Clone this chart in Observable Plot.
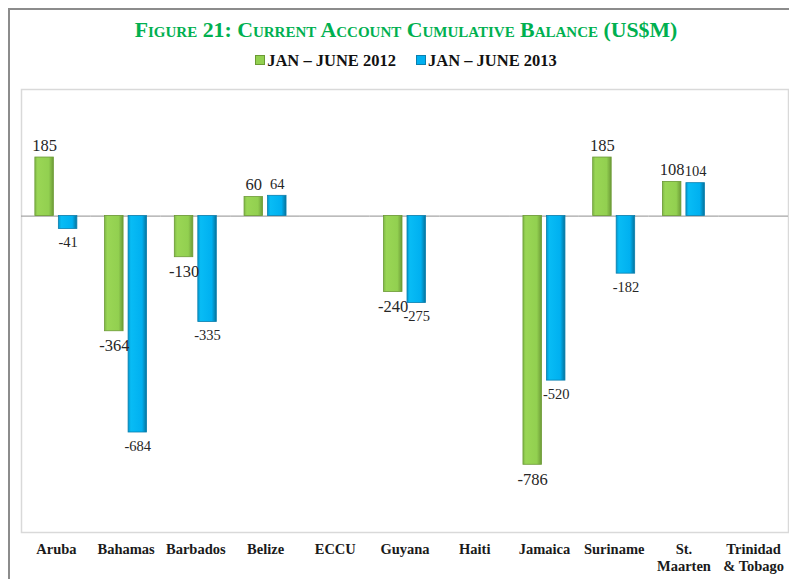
<!DOCTYPE html>
<html><head><meta charset="utf-8">
<script src="https://cdn.jsdelivr.net/npm/d3@7"></script>
<script src="https://cdn.jsdelivr.net/npm/@observablehq/plot@0.6"></script>
<style>
body{margin:0;background:#fff;}
#wrap{position:relative;width:789px;height:579px;overflow:hidden;font-family:"Liberation Serif",serif;}
#outer{position:absolute;left:8px;top:8px;width:800px;height:600px;border-top:2px solid #8c8c8c;border-left:2px solid #8c8c8c;}
#chart{position:absolute;left:0;top:0;}
#title{position:absolute;left:0;width:812px;top:17px;text-align:center;color:#00b050;font-weight:bold;font-variant:small-caps;font-size:21.8px;line-height:26px;}
#legend{position:absolute;left:0;width:812px;top:51px;text-align:center;font-weight:bold;font-size:16.5px;line-height:20px;color:#111;}
#legend span.item{display:inline-block;margin:0 10px;}
#legend span.sw{display:inline-block;width:8px;height:8px;margin-right:2px;vertical-align:1px;}
</style></head>
<body>
<div id="wrap">
  <div id="outer"></div>
  <div id="chart"></div>
  <div id="title">Figure 21: Current Account Cumulative Balance (US$M)</div>
  <div id="legend"></div>
</div>
<script>
const categories = ["Aruba","Bahamas","Barbados","Belize","ECCU","Guyana","Haiti","Jamaica","Suriname","St. Maarten","Trinidad & Tobago"];
const tickLabels = ["Aruba","Bahamas","Barbados","Belize","ECCU","Guyana","Haiti","Jamaica","Suriname","St.\nMaarten","Trinidad\n& Tobago"];
const seriesNames = ["JAN – JUNE 2012","JAN – JUNE 2013"];
const values2012 = [185,-364,-130,60,null,-240,null,-786,185,108,null];
const values2013 = [-41,-684,-335,64,null,-275,null,-520,-182,104,null];
const seriesColors = ["#92d050","#00b0f0"];

const rows = [];
categories.forEach((c,i)=>{
  if (values2012[i] != null) rows.push({cat:c, series:seriesNames[0], value:values2012[i]});
  if (values2013[i] != null) rows.push({cat:c, series:seriesNames[1], value:values2013[i]});
});
const labelMap = new Map(categories.map((c,i)=>[c,tickLabels[i]]));

const chart = Plot.plot({
  width:789, height:579,
  marginTop:89, marginBottom:47, marginLeft:21, marginRight:1,
  style:{fontFamily:"'Liberation Serif', serif", background:"transparent", overflow:"visible"},
  fx:{domain:categories, padding:0, round:false, label:null},
  x:{domain:seriesNames, paddingInner:0.213, paddingOuter:0.59, round:false, axis:null},
  y:{domain:[-1000,400], axis:null},
  color:{domain:seriesNames, range:["url(#g12)","url(#g13)"]},
  marks:[
    Plot.frame({facet:"super", stroke:"#d9d9d9", strokeWidth:1.5}),
    Plot.ruleY(categories, {fx:d=>d, y:d=>0, stroke:"#a6a6a6", strokeWidth:1.2}),
    Plot.barY(rows, {fx:"cat", x:"series", y:"value", fill:"series",
      stroke:d=>d.series===seriesNames[0]?"#6b9a34":"#0a7fae", strokeWidth:0.8}),
    Plot.text(rows.filter(d=>d.value>=0), {fx:"cat", x:"series", y:"value", text:d=>String(d.value),
      lineAnchor:"bottom", dy:-7, fill:"#262626",
      fontSize:d=>d.series===seriesNames[0]?16.5:14.5}),
    Plot.text(rows.filter(d=>d.value<0), {fx:"cat", x:"series", y:"value", text:d=>String(d.value),
      lineAnchor:"top", dy:8, fill:"#262626",
      fontSize:d=>d.series===seriesNames[0]?16.5:14.5}),
    Plot.axisFx({anchor:"bottom", tickSize:0, tickPadding:9, fontSize:14.5, fontWeight:"bold",
      lineHeight:1.2, fill:"#1a1a1a", tickFormat:d=>labelMap.get(d), label:null})
  ]
});

chart.insertAdjacentHTML("afterbegin", `<defs>
 <linearGradient id="g12" x1="0" x2="1" y1="0" y2="0">
  <stop offset="0" stop-color="#7fb847"/><stop offset="0.15" stop-color="#9ad655"/>
  <stop offset="0.75" stop-color="#92d050"/><stop offset="1" stop-color="#6e9c38"/>
 </linearGradient>
 <linearGradient id="g13" x1="0" x2="1" y1="0" y2="0">
  <stop offset="0" stop-color="#0596cc"/><stop offset="0.15" stop-color="#08bcf5"/>
  <stop offset="0.75" stop-color="#00b0f0"/><stop offset="1" stop-color="#06739c"/>
 </linearGradient>
</defs>`);
document.getElementById("chart").appendChild(chart);

const legend = document.getElementById("legend");
seriesNames.forEach((s,i)=>{
  const item = document.createElement("span");
  item.className = "item";
  const sw = document.createElement("span");
  sw.className = "sw";
  sw.style.background = seriesColors[i];
  sw.style.border = "1px solid " + (i===0 ? "#6b9a34" : "#0a7fae");
  item.appendChild(sw);
  item.appendChild(document.createTextNode(s));
  legend.appendChild(item);
});
</script>
</body></html>
